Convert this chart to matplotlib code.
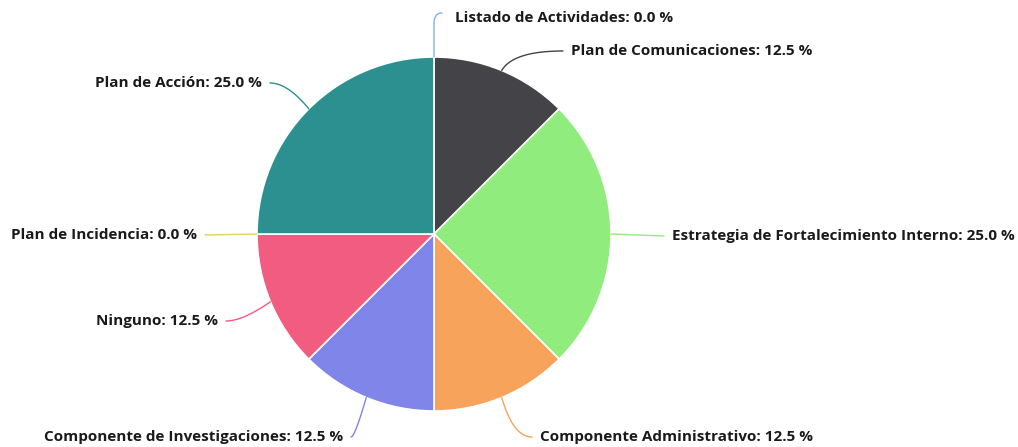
import matplotlib
matplotlib.use("Agg")
import matplotlib.pyplot as plt
import numpy as np

categories = ["Listado de Actividades", "Plan de Comunicaciones",
              "Estrategia de Fortalecimiento Interno", "Componente Administrativo",
              "Componente de Investigaciones", "Ninguno", "Plan de Incidencia",
              "Plan de Acción"]
values = [0.0, 12.5, 25.0, 12.5, 12.5, 12.5, 0.0, 25.0]
colors = ["#7cb5ec", "#434348", "#90ed7d", "#f7a35c", "#8085e9", "#f15c80",
          "#e4d354", "#2b908f"]

# label layout (pixel positions of text anchor, side)
label_pos = [(455, 18, 'left'), (571, 51, 'left'), (672, 236, 'left'),
             (540, 437, 'left'), (343, 437, 'right'), (218, 321, 'right'),
             (197, 235, 'right'), (262, 83, 'right')]

W, H = 1018, 447
fig = plt.figure(figsize=(W / 100, H / 100), dpi=100)
ax = fig.add_axes([0, 0, 1, 1])
cx, cy, r = 434, 234, 177

wedges, _ = ax.pie(values, colors=colors, startangle=90, counterclock=False,
                   center=(cx, H - cy), radius=r,
                   wedgeprops=dict(edgecolor="white", linewidth=1.2))
ax.set_xlim(0, W)
ax.set_ylim(0, H)
ax.set_aspect("equal")
ax.axis("off")


def bezier(p0, p1, p2, n=40):
    t = np.linspace(0, 1, n)[:, None]
    p0, p1, p2 = map(np.array, (p0, p1, p2))
    return (1 - t) ** 2 * p0 + 2 * (1 - t) * t * p1 + t ** 2 * p2


total = sum(values)
start = 0.0
for cat, v, col, (lx, ly, side) in zip(categories, values, colors, label_pos):
    frac = v / total
    mid = (start + frac / 2) * 2 * np.pi
    start += frac
    sx, sy = cx + r * np.sin(mid), cy - r * np.cos(mid)
    ex = lx - 8 if side == 'left' else lx + 8
    if abs(np.sin(mid)) < 1e-6 and np.cos(mid) > 0:
        seg1 = np.array([(sx, sy), (sx, ly + 6)])
        seg2 = bezier((sx, ly + 6), (sx, ly - 5), (sx + 8, ly - 5))
        pts = np.vstack([seg1, seg2])
    elif abs(np.cos(mid)) < 1e-6:
        pts = np.array([(sx, sy), (ex, ly)])
    else:
        d = 30
        mx, my = cx + (r + d) * np.sin(mid), cy - (r + d) * np.cos(mid)
        pts = bezier((sx, sy), (mx, ly), (ex, ly))
    ax.plot(pts[:, 0], H - pts[:, 1], color=col, linewidth=1.0,
            solid_capstyle="round")
    ax.text(lx, H - ly, f"{cat}: {v:.1f} %", ha=side, va="center",
            fontsize=11, fontweight="bold", color="#1a1a1a",
            family="Open Sans")

fig.savefig("out.png", dpi=100)
